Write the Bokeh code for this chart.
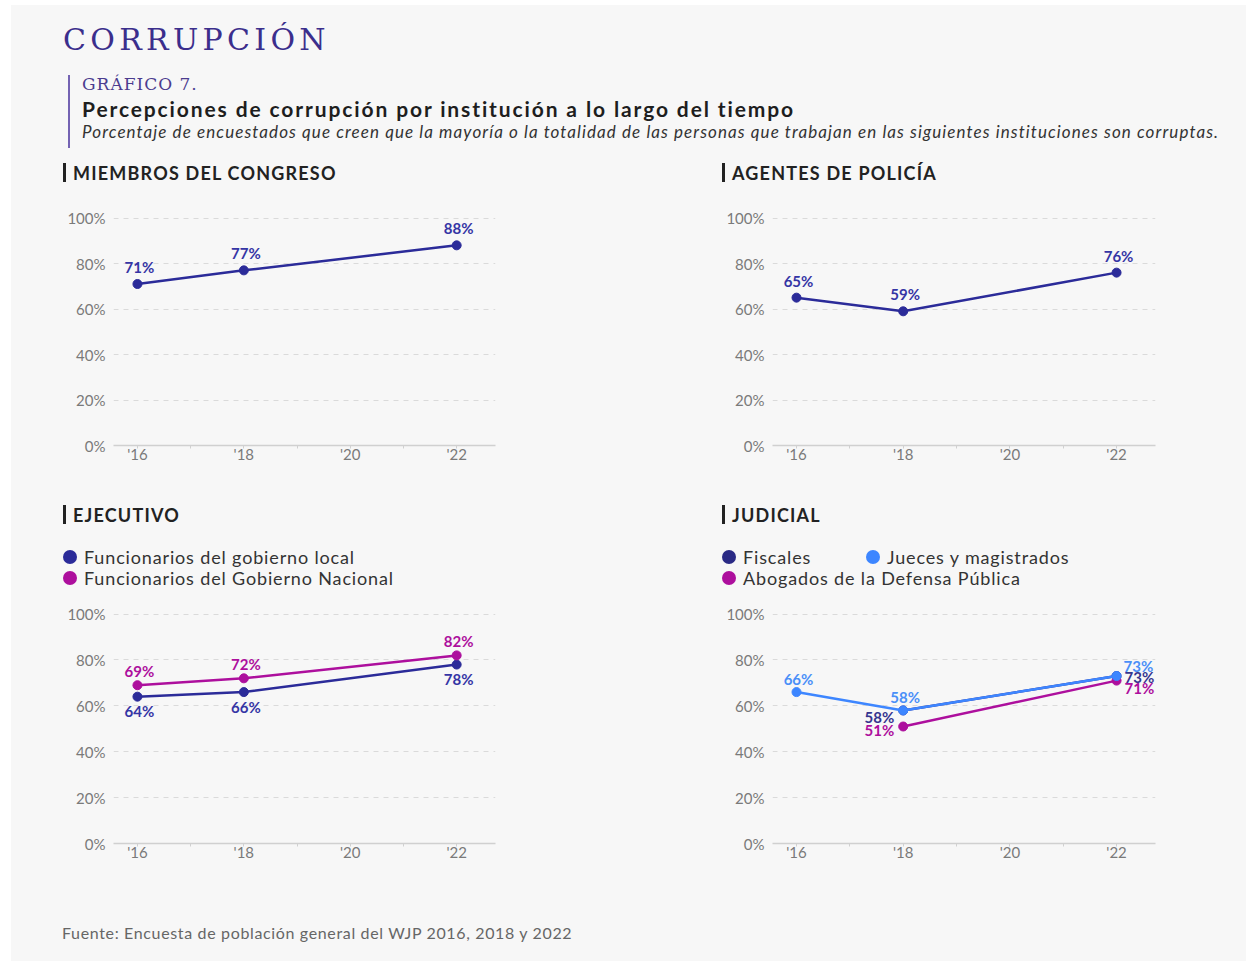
from bokeh.plotting import figure
from bokeh.models import Range1d, FixedTicker, ColumnDataSource, LabelSet, Div, Spacer
from bokeh.layouts import column, row
from bokeh.core.properties import value, field
from bokeh.embed import file_html
from bokeh.resources import INLINE

# ---------------- data ----------------
years = [2016, 2018, 2022]
congreso = [71, 77, 88]
policia = [65, 59, 76]
gob_local = [64, 66, 78]
gob_nacional = [69, 72, 82]
fiscales_years = [2018, 2022]
fiscales = [58, 73]
jueces = [66, 58, 73]
abogados_years = [2018, 2022]
abogados = [51, 71]

x_ticks = [2016, 2018, 2020, 2022]
x_minor = [2017, 2019, 2021]
x_tick_labels = ["'16", "'18", "'20", "'22"]
y_ticks = [0, 20, 40, 60, 80, 100]
y_tick_labels = ["0%", "20%", "40%", "60%", "80%", "100%"]

panel_titles = ["MIEMBROS DEL CONGRESO", "AGENTES DE POLICÍA", "EJECUTIVO", "JUDICIAL"]
ejecutivo_names = ["Funcionarios del gobierno local", "Funcionarios del Gobierno Nacional"]
judicial_names = ["Fiscales", "Jueces y magistrados", "Abogados de la Defensa Pública"]

# ---------------- style ----------------
BG = "#f7f7f7"
NAVY = "#2b2b99"
MAGENTA = "#ad0f9d"
BLUE = "#3d86ff"
FONT = "Lato"


def make_fig(w, h, bl, br, bt, bb):
    p = figure(width=w, height=h, x_range=Range1d(2015.55, 2022.73), y_range=Range1d(0, 102),
               output_backend="svg", toolbar_location=None,
               min_border_left=bl, min_border_right=br, min_border_top=bt, min_border_bottom=bb,
               background_fill_color=BG, border_fill_color=BG, outline_line_color=None)
    p.xgrid.grid_line_color = None
    p.ygrid.ticker = FixedTicker(ticks=y_ticks)
    p.ygrid.grid_line_color = "#dadada"
    p.ygrid.grid_line_dash = "5 5"
    p.ygrid.grid_line_width = 1

    p.yaxis.ticker = FixedTicker(ticks=y_ticks)
    p.yaxis.major_label_overrides = dict(zip(y_ticks, y_tick_labels))
    p.yaxis.axis_line_color = None
    p.yaxis.major_tick_line_color = None
    p.yaxis.minor_tick_line_color = None
    p.yaxis.major_tick_out = 0
    p.yaxis.major_label_standoff = 8
    p.yaxis.major_label_text_color = "#7a7a7a"
    p.yaxis.major_label_text_font = FONT
    p.yaxis.major_label_text_font_size = "15px"

    p.xaxis.ticker = FixedTicker(ticks=x_ticks, minor_ticks=x_minor)
    p.xaxis.major_label_overrides = dict(zip(x_ticks, x_tick_labels))
    p.xaxis.axis_line_color = "#d0d0d0"
    p.xaxis.axis_line_width = 1.5
    p.xaxis.major_tick_line_color = "#d0d0d0"
    p.xaxis.minor_tick_line_color = "#d0d0d0"
    p.xaxis.major_tick_in = 0
    p.xaxis.major_tick_out = 3
    p.xaxis.minor_tick_in = 0
    p.xaxis.minor_tick_out = 3
    p.xaxis.major_label_standoff = -4
    p.xaxis.major_label_text_color = "#7a7a7a"
    p.xaxis.major_label_text_font = FONT
    p.xaxis.major_label_text_font_size = "15px"
    return p


def add_series(p, xs, ys, color, dx, dy, align, label_color=None):
    src = ColumnDataSource(dict(x=xs, y=ys, text=[f"{v}%" for v in ys], dx=dx, dy=dy, align=align))
    p.line("x", "y", source=src, line_color=color, line_width=2.5)
    p.scatter("x", "y", source=src, size=9, fill_color=color, line_color=color)
    p.add_layout(LabelSet(x="x", y="y", text="text", source=src,
                          x_offset=field("dx"), y_offset=field("dy"), text_align=field("align"),
                          text_baseline="middle", text_font=value(FONT), text_font_style="bold",
                          text_font_size="15px", text_color=label_color or color))


LW, RW = 659, 576
# row 1 figures (image y 198 -> 480)
p1 = make_fig(LW, 282, 102, 175, 15, 35)
add_series(p1, years, congreso, NAVY, [2, 2, 2], [17, 17, 17], ["center"] * 3, "#3535a5")
p2 = make_fig(RW, 282, 102, 91, 15, 35)
add_series(p2, years, policia, NAVY, [2, 2, 2], [17, 17, 17], ["center"] * 3, "#3535a5")

# row 2 figures (image y 594 -> 880)
p3 = make_fig(LW, 286, 102, 175, 15, 37)
add_series(p3, years, gob_local, NAVY, [2, 2, 2], [-14.5, -14.5, -14.5], ["center"] * 3, "#3535a5")
add_series(p3, years, gob_nacional, MAGENTA, [2, 2, 2], [14, 14, 14], ["center"] * 3)
p4 = make_fig(RW, 286, 102, 91, 15, 37)
add_series(p4, fiscales_years, fiscales, NAVY, [-9, 8], [-7, -1.3], ["right", "left"], "#35358f")
add_series(p4, abogados_years, abogados, MAGENTA, [-9, 8], [-3, -7.5], ["right", "left"])
add_series(p4, years, jueces, BLUE, [2, 2, 7], [13, 13, 10.5], ["center", "center", "left"], "#4a8ff8")

# ---------------- HTML texts ----------------
abs_txt = "position:absolute;white-space:nowrap;line-height:1;"
CW = LW + RW

header_html = f"""
<div style="position:relative;width:{CW}px;height:153px;background:{BG};overflow:hidden;">
 <div style="{abs_txt}left:52px;top:20px;font-family:'DejaVu Serif';font-size:30px;color:#3b2e8c;letter-spacing:4.3px;">CORRUPCIÓN</div>
 <div style="position:absolute;left:57px;top:70px;width:2px;height:73px;background:#7463b3;"></div>
 <div style="{abs_txt}left:71px;top:71px;font-family:'DejaVu Serif';font-size:17px;color:#4b3c8f;letter-spacing:1px;">GRÁFICO 7.</div>
 <div style="{abs_txt}left:71px;top:93px;font-family:Lato;font-weight:bold;font-size:21px;color:#1e1e1e;letter-spacing:1.88px;">Percepciones de corrupción por institución a lo largo del tiempo</div>
 <div style="{abs_txt}left:71px;top:118px;font-family:Lato;font-style:italic;font-size:17px;color:#333333;letter-spacing:1.09px;">Porcentaje de encuestados que creen que la mayoría o la totalidad de las personas que trabajan en las siguientes instituciones son corruptas.</div>
</div>"""


def title_html(w, h, title, top, legend=""):
    return f"""
<div style="position:relative;width:{w}px;height:{h}px;background:{BG};overflow:hidden;">
 <div style="position:absolute;left:52px;top:{top - 1}px;width:3px;height:19px;background:#222222;"></div>
 <div style="{abs_txt}left:62px;top:{top}px;font-family:Lato;font-weight:bold;font-size:18px;color:#222222;letter-spacing:1.2px;">{title}</div>
 {legend}
</div>"""


def legend_item(x, y, color, text):
    return (f'<div style="position:absolute;left:{x}px;top:{y + 2}px;width:14px;height:14px;border-radius:50%;background:{color};"></div>'
            f'<div style="{abs_txt}left:{x + 21}px;top:{y}px;font-family:Lato;font-size:18px;color:#333333;letter-spacing:0.85px;">{text}</div>')


leg3 = legend_item(52, 68, NAVY, ejecutivo_names[0]) + legend_item(52, 89, MAGENTA, ejecutivo_names[1])
leg4 = (legend_item(52, 68, "#2a2a85", judicial_names[0]) + legend_item(196, 68, BLUE, judicial_names[1])
        + legend_item(52, 89, MAGENTA, judicial_names[2]))

t1 = Div(text=title_html(LW, 40, panel_titles[0], 6), width=LW, height=40, margin=0)
t2 = Div(text=title_html(RW, 40, panel_titles[1], 6), width=RW, height=40, margin=0)
t3 = Div(text=title_html(LW, 114, panel_titles[2], 26, leg3), width=LW, height=114, margin=0)
t4 = Div(text=title_html(RW, 114, panel_titles[3], 26, leg4), width=RW, height=114, margin=0)

header = Div(text=header_html, width=CW, height=153, margin=0)
footer_html = f"""
<div style="position:relative;width:{CW}px;height:81px;background:{BG};overflow:hidden;">
 <div style="{abs_txt}left:51px;top:45px;font-family:Lato;font-size:16px;color:#666666;letter-spacing:0.65px;">Fuente: Encuesta de población general del WJP 2016, 2018 y 2022</div>
</div>"""
footer = Div(text=footer_html, width=CW, height=81, margin=0)

content = column(
    header,
    row(column(t1, p1, spacing=0), column(t2, p2, spacing=0), spacing=0),
    row(column(t3, p3, spacing=0), column(t4, p4, spacing=0), spacing=0),
    footer,
    spacing=0,
    styles={"background-color": BG},
)

layout = column(
    Spacer(width=CW + 11, height=5),
    row(Spacer(width=11, height=956), content, spacing=0),
    spacing=0,
)

open("out.html", "w").write(file_html(layout, INLINE))
